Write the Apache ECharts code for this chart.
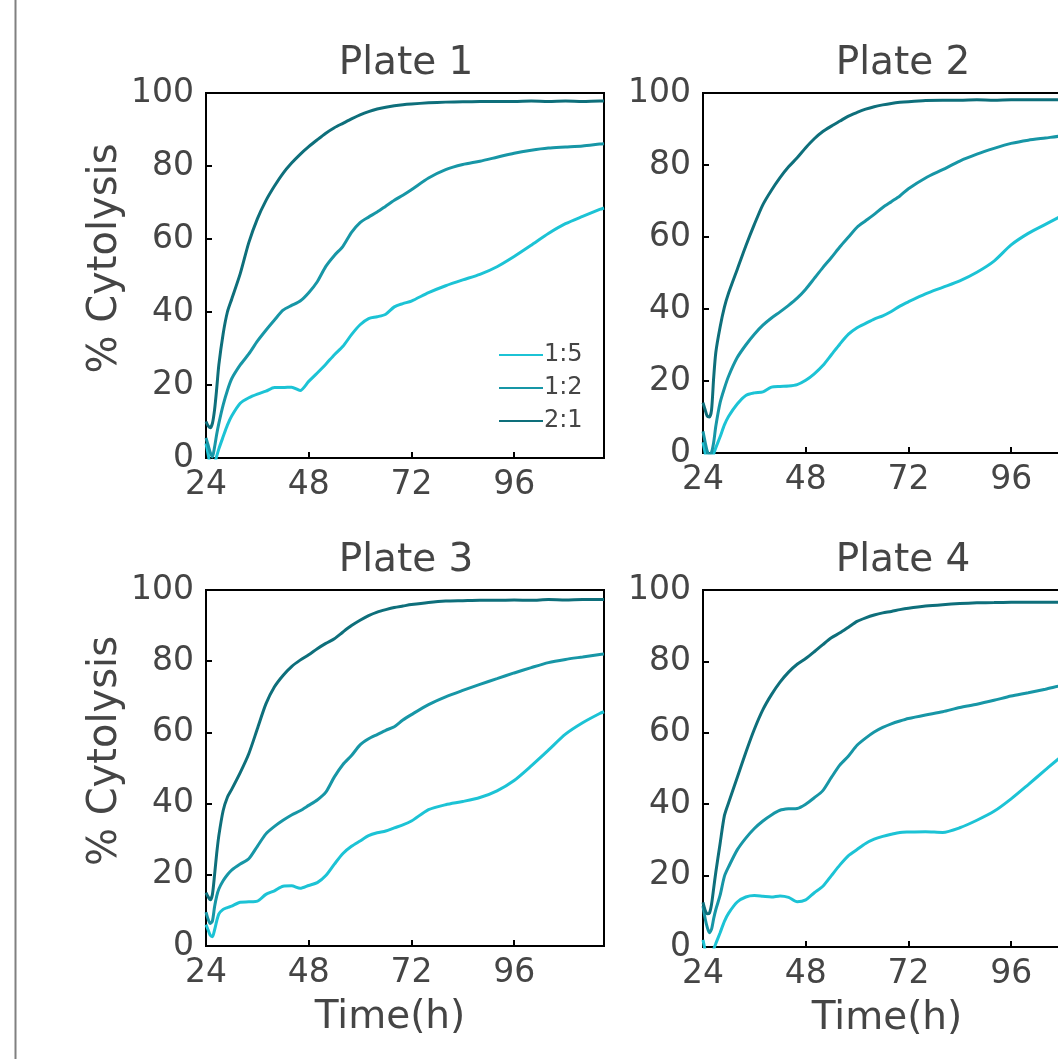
<!DOCTYPE html>
<html>
<head>
<meta charset="utf-8">
<title>Cytolysis by plate</title>
<script src="https://cdn.jsdelivr.net/npm/echarts@6/dist/echarts.min.js"></script>
<style>
  html, body { margin: 0; padding: 0; background: #fff; }
  #main { width: 1058px; height: 1059px; }
</style>
</head>
<body>
<div id="main"></div>
<script>
// time points (h), shared by every curve
var hours = [24, 24.5, 25, 25.5, 26, 26.5, 27, 28, 29, 30, 32, 34, 36, 38, 40, 42, 44, 46, 48, 50,
             52, 54, 56, 58, 60, 62, 64, 66, 68, 70, 72, 76, 80, 84, 88, 92, 96, 100, 104, 108,
             112, 116, 117];
var xTicks = [24, 48, 72, 96];
var ratios = ['1:5', '1:2', '2:1'];
var plateNames = ['Plate 1', 'Plate 2', 'Plate 3', 'Plate 4'];

// % cytolysis
var plate1_15 = [4, 1, -2, -3, -1.5, 0.5, 2.5, 5.8, 9, 11.5, 15, 16.5, 17.5, 18.3, 19.3, 19.3, 19.4, 18.5, 21, 23.3,
                 25.7, 28.3, 30.6, 33.8, 36.5, 38.2, 38.7, 39.4, 41.4, 42.3, 43, 45.3, 47.2, 48.8, 50.3, 52.4, 55.2, 58.3, 61.5, 64.2,
                 66.2, 68.1, 68.5];
var plate1_12 = [5.5, 3.5, 1.5, 0.3, 3, 6.5, 9.5, 14.5, 18.5, 21.7, 25.5, 28.5, 32, 35, 37.8, 40.5, 41.8, 43, 45.3, 48.3,
                 52.5, 55.5, 58, 61.8, 64.5, 66, 67.4, 69, 70.6, 72, 73.5, 76.7, 79, 80.4, 81.3, 82.4, 83.5, 84.3, 84.9, 85.2,
                 85.5, 86, 86.1];
var plate1_21 = [10, 8.8, 8.3, 9.5, 13.2, 19, 25.5, 34, 40, 43.5, 50.5, 59, 65.5, 70.5, 74.5, 78, 80.8, 83.2, 85.3, 87.2,
                 89, 90.5, 91.7, 92.9, 94, 94.9, 95.6, 96.1, 96.5, 96.8, 97, 97.3, 97.5, 97.6, 97.7, 97.7, 97.7, 97.8, 97.7, 97.8,
                 97.7, 97.8, 97.8];

var plate2_15 = [3, 0, -3, -4, -2, -0.2, 1.5, 4.5, 7.8, 10.2, 13.6, 16, 16.7, 17, 18.3, 18.5, 18.6, 19, 20.2, 22,
                 24.3, 27.3, 30.3, 33, 34.8, 36, 37.2, 38.1, 39.3, 40.8, 42, 44.2, 46, 47.8, 50.2, 53.3, 57.8, 61, 63.5, 66,
                 68.5, 71, 71.5];
var plate2_12 = [6, 3, 0.5, -0.5, 0.2, 3, 7.5, 14, 18, 21.4, 26.5, 30, 33, 35.5, 37.5, 39.2, 41, 43, 45.5, 48.5,
                 51.5, 54.3, 57.3, 60, 62.7, 64.5, 66.3, 68.2, 69.8, 71.4, 73.4, 76.4, 78.7, 81.1, 83, 84.6, 86, 86.9, 87.5, 88.1,
                 88.5, 88.8, 88.9];
var plate2_21 = [14, 12, 10.2, 10, 12, 21, 28, 35, 40.5, 44.5, 51, 57.5, 63.5, 69, 73, 76.5, 79.5, 82, 84.8, 87.3,
                 89.3, 90.8, 92.2, 93.6, 94.6, 95.5, 96.2, 96.7, 97.1, 97.4, 97.6, 97.9, 98, 98, 98.1, 98, 98.1, 98.1, 98.1, 98.1,
                 98.1, 98.1, 98.1];

var plate3_15 = [6, 4.5, 3, 2.6, 4.5, 7, 9, 10.3, 10.8, 11.2, 12.3, 12.4, 12.6, 14.5, 15.5, 16.8, 16.9, 16.2, 17, 17.8,
                 19.8, 23, 26, 28, 29.5, 31, 31.8, 32.3, 33.2, 34, 35.1, 38.3, 39.7, 40.6, 41.7, 43.6, 46.5, 50.6, 55, 59.5,
                 62.7, 65.3, 65.8];
var plate3_12 = [9.5, 7.5, 6.3, 7, 11, 14, 16, 18.3, 20, 21.3, 23, 24.5, 28, 31.5, 33.6, 35.3, 36.8, 38, 39.5, 41,
                 43.2, 47.5, 51, 53.5, 56.5, 58.2, 59.4, 60.6, 61.6, 63.5, 65, 67.8, 70, 71.8, 73.5, 75.1, 76.7, 78.2, 79.6, 80.5,
                 81.2, 81.9, 82];
var plate3_21 = [15, 13.8, 13, 14.5, 20, 26, 31, 38, 41.8, 44, 48.7, 54, 61, 68, 72.8, 76, 78.5, 80.3, 81.8, 83.5,
                 85, 86.3, 88.2, 90, 91.5, 92.8, 93.8, 94.5, 95.1, 95.5, 95.9, 96.5, 96.9, 97, 97.1, 97.1, 97.2, 97.1, 97.3, 97.2,
                 97.3, 97.3, 97.3];

var plate4_15 = [2, -1, -4, -4, -2.5, -0.6, 1, 4, 7.2, 9.5, 12.6, 14, 14.4, 14.2, 14, 14.3, 13.9, 12.7, 13.2, 15.2,
                 17, 20, 23, 25.6, 27.3, 29, 30.2, 31, 31.6, 32.1, 32.2, 32.3, 32.1, 33.4, 35.5, 38, 41.5, 45.5, 49.6, 53.6,
                 57, 60.5, 61];
var plate4_12 = [11.5, 8, 5.5, 4, 5, 8, 10.5, 14.5, 19.8, 22.5, 27.2, 30.5, 33.2, 35.3, 37, 38.3, 38.7, 38.8, 40, 41.8,
                 43.8, 47.5, 51, 53.5, 56.5, 58.5, 60.2, 61.5, 62.5, 63.3, 64, 65, 65.9, 67.1, 68, 69.1, 70.3, 71.2, 72.2, 73.3,
                 74.2, 75, 75.2];
var plate4_21 = [12.5, 10.3, 9.3, 9.5, 12, 16.5, 21, 29, 36.8, 40.5, 47.5, 54.5, 61, 66.5, 70.7, 74.2, 77, 79.2, 80.8, 82.7,
                 84.7, 86.6, 88, 89.6, 91.2, 92.2, 93, 93.6, 94, 94.5, 94.9, 95.5, 95.9, 96.2, 96.4, 96.5, 96.6, 96.6, 96.6, 96.6,
                 96.6, 96.6, 96.6];

var plates = [
  [plate1_15, plate1_12, plate1_21],
  [plate2_15, plate2_12, plate2_21],
  [plate3_15, plate3_12, plate3_21],
  [plate4_15, plate4_12, plate4_21]
];

var colors = ['#1cc3d5', '#1796a6', '#0e6f7b'];
var font = 'DejaVu Sans';
var textColor = '#454545';

// plot boxes in px (right column runs past the page edge, as in the picture)
var boxes = [
  {left: 206, top: 93, width: 398, height: 365},
  {left: 703, top: 93, width: 398, height: 360},
  {left: 206, top: 590, width: 398, height: 356},
  {left: 703, top: 590, width: 398, height: 357}
];

var chart = echarts.init(document.getElementById('main'));

var grids = [], xAxes = [], yAxes = [], series = [], titles = [];

boxes.forEach(function (b, p) {
  grids.push({
    left: b.left, top: b.top, width: b.width, height: b.height,
    outerBoundsMode: 'none',
    show: true, borderColor: '#000', borderWidth: 2, backgroundColor: '#fff'
  });
  titles.push({
    text: plateNames[p],
    left: b.left + b.width / 2 - 4,
    top: b.top - 54,
    textAlign: 'center',
    textStyle: {fontFamily: font, fontSize: 39, fontWeight: 'normal', color: textColor}
  });
  xAxes.push({
    type: 'value', gridIndex: p, min: 24, max: 117,
    name: p >= 2 ? 'Time(h)' : '',
    nameLocation: 'middle', nameGap: 52,
    nameTextStyle: {fontFamily: font, fontSize: 39, color: textColor, padding: [0, 30, 0, 0]},
    splitLine: {show: false},
    axisLine: {lineStyle: {color: '#000', width: 2}},
    axisTick: {inside: true, length: 6, customValues: xTicks, lineStyle: {color: '#000', width: 2}},
    axisLabel: {customValues: xTicks, margin: 11, fontFamily: font, fontSize: 33, color: textColor}
  });
  yAxes.push({
    type: 'value', gridIndex: p, min: 0, max: 100, interval: 20,
    name: p % 2 === 0 ? '% Cytolysis' : '',
    nameLocation: 'middle', nameGap: 80,
    nameTextStyle: {fontFamily: font, fontSize: 40, color: textColor, padding: [0, 0, 0, 34]},
    splitLine: {show: false},
    axisLine: {lineStyle: {color: '#000', width: 2}},
    axisTick: {inside: true, length: 6, lineStyle: {color: '#000', width: 2}},
    axisLabel: {margin: 12, fontFamily: font, fontSize: 33, color: textColor}
  });
  plates[p].forEach(function (vals, r) {
    series.push({
      name: ratios[r],
      type: 'line',
      xAxisIndex: p, yAxisIndex: p,
      data: hours.map(function (h, i) { return [h, vals[i]]; }),
      symbol: 'none',
      smooth: 0.25,
      clip: true,
      color: colors[r],
      lineStyle: {width: 3, color: colors[r]},
      z: 2 + r
    });
  });
});

chart.setOption({
  backgroundColor: '#fff',
  animation: false,
  title: titles,
  grid: grids,
  xAxis: xAxes,
  yAxis: yAxes,
  legend: {
    data: ratios,
    orient: 'vertical',
    left: 494, top: 338,
    itemWidth: 44, itemHeight: 24, itemGap: 9,
    icon: 'path://M0,11 L44,11 L44,13 L0,13 Z',
    textStyle: {fontFamily: font, fontSize: 24, color: textColor, padding: [0, 0, 0, -4]}
  },
  graphic: [{
    type: 'line',
    shape: {x1: 15.5, y1: 0, x2: 15.5, y2: 1059},
    style: {stroke: '#808080', lineWidth: 2}
  }],
  series: series
});
</script>
</body>
</html>
